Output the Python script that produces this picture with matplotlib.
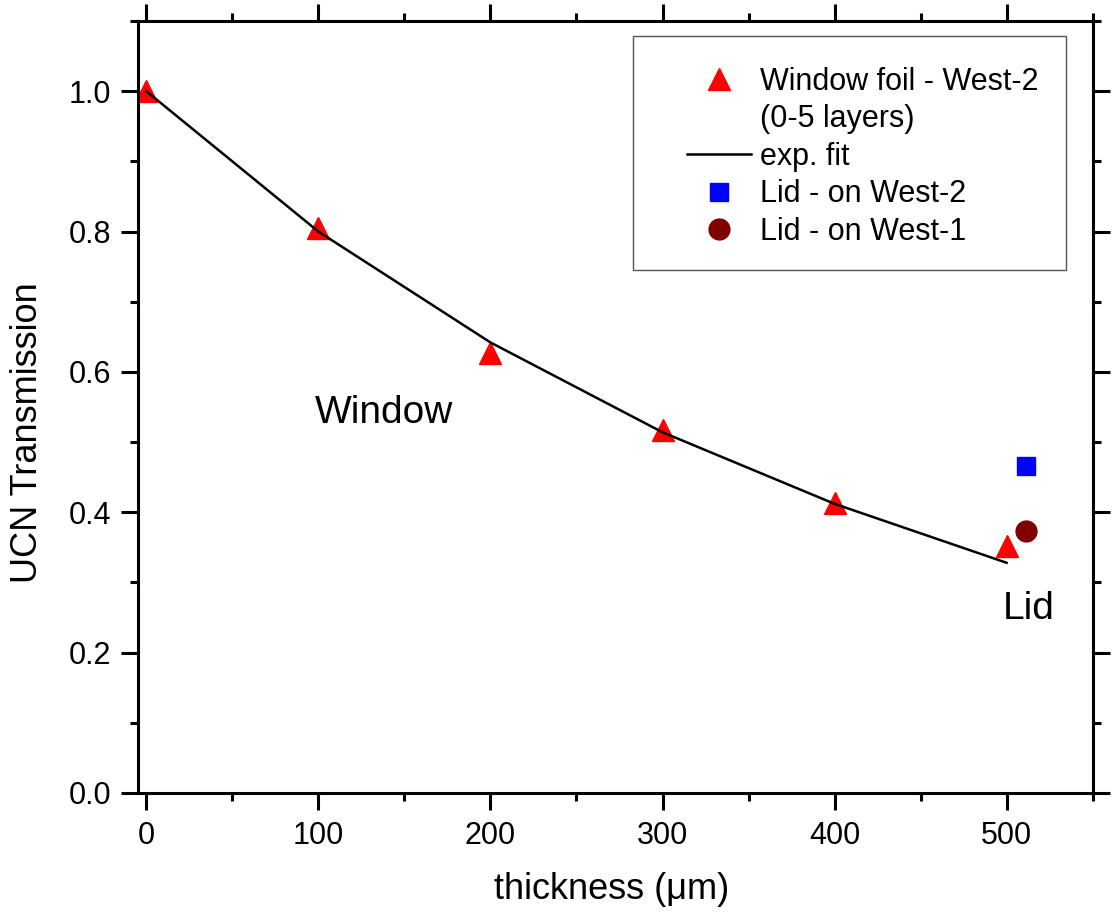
import matplotlib
matplotlib.use("Agg")
from matplotlib import pyplot as plt
from matplotlib.ticker import MultipleLocator, FormatStrFormatter
from matplotlib.patches import Rectangle
from matplotlib.lines import Line2D

plt.rcParams['font.family'] = ['Liberation Sans', 'DejaVu Sans']

# window foil measurements (0-5 layers)
thickness = [0, 100, 200, 300, 400, 500]
transmission = [1.0, 0.805, 0.627, 0.517, 0.413, 0.352]

# exp. fit
fit_x = [0, 100, 200, 300, 400, 500]
fit_y = [1.0, 0.800, 0.642, 0.514, 0.412, 0.328]

# lids
lid_w2_x, lid_w2_y = [511], [0.466]
lid_w1_x, lid_w1_y = [511], [0.373]

fig = plt.figure(figsize=(11.15, 9.14), dpi=100)
ax = fig.add_axes([0.1235, 0.1324, 0.8565, 0.8446])

tri, = ax.plot(thickness, transmission, linestyle='none', marker='^', ms=16,
               color='red')
fit, = ax.plot(fit_x, fit_y, color='black', lw=1.8)
sq, = ax.plot(lid_w2_x, lid_w2_y, linestyle='none', marker='s', ms=13,
              color='blue')
circ, = ax.plot(lid_w1_x, lid_w1_y, linestyle='none', marker='o', ms=15,
                color='#800000')

ax.text(138, 0.541, 'Window', fontsize=28, ha='center', va='center')
ax.text(513, 0.262, 'Lid', fontsize=28, ha='center', va='center')

ax.set_xlim(-5, 550)
ax.set_ylim(0, 1.1)
ax.xaxis.set_major_locator(MultipleLocator(100))
ax.xaxis.set_minor_locator(MultipleLocator(50))
ax.yaxis.set_major_locator(MultipleLocator(0.2))
ax.yaxis.set_minor_locator(MultipleLocator(0.1))
ax.yaxis.set_major_formatter(FormatStrFormatter('%.1f'))

for s in ax.spines.values():
    s.set_linewidth(2.2)
ax.tick_params(which='both', direction='out', top=True, right=True,
               width=2.2, labelsize=22, pad=7)
ax.tick_params(axis='x', pad=8)
ax.tick_params(which='major', length=12)
ax.tick_params(which='minor', length=6)

ax.set_xlabel('thickness (μm)', fontsize=26)
ax.set_ylabel('UCN Transmission', fontsize=26)
ax.xaxis.set_label_coords(0.496, -0.103)
ax.yaxis.set_label_coords(-0.097, 0.467)

# legend box drawn separately (wide left margin in the original)
ax.add_patch(Rectangle((0.5187, 0.6775), 0.4533, 0.3031, transform=ax.transAxes,
                       facecolor='white', edgecolor='#555555', lw=1.0, zorder=4))
blank = Line2D([], [], linestyle='none')
handles = [tri, blank, fit, sq, circ]
labels = ['Window foil - West-2', '(0-5 layers)', 'exp. fit',
          'Lid - on West-2', 'Lid - on West-1']
leg = ax.legend(handles, labels, loc='upper left', bbox_to_anchor=(0.575, 0.941),
                borderaxespad=0, borderpad=0, fontsize=22, frameon=False,
                handlelength=2.1, labelspacing=0.25, handletextpad=0.3)
leg.set_zorder(5)

fig.savefig('out.png', dpi=100)
